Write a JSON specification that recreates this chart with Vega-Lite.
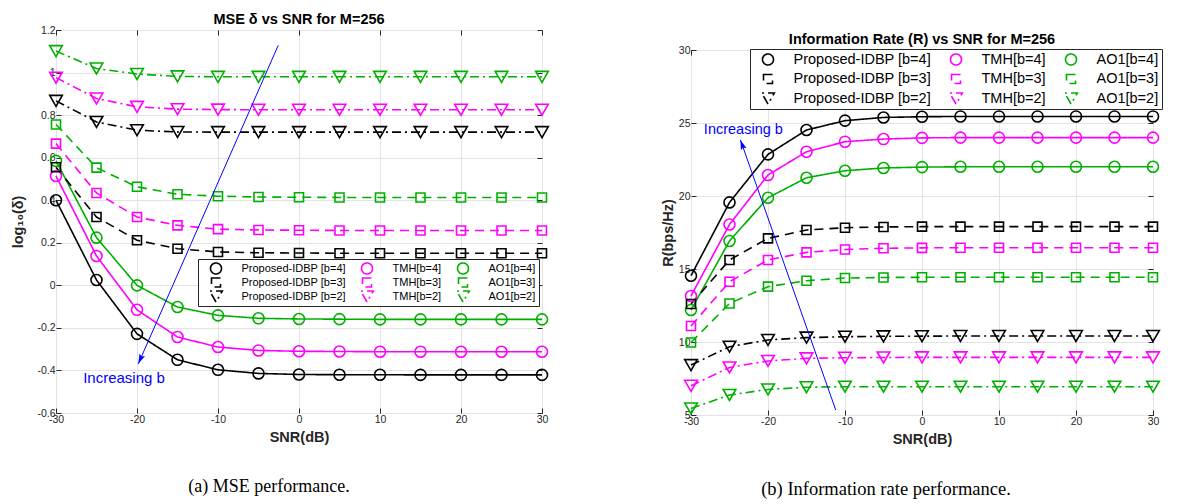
{
  "$schema": "https://vega.github.io/schema/vega-lite/v6.json",
  "padding": {"left": 10, "top": 9, "right": 2, "bottom": 2},
  "background": "white",
  "resolve": {"scale": {"color": "independent", "shape": "independent", "strokeDash": "independent", "size": "independent"}},
  "datasets": {
    "mse": [
      {"series": "Proposed-IDBP [b=4]", "snr": -30, "value": 0.40},
      {"series": "Proposed-IDBP [b=4]", "snr": -25, "value": 0.025},
      {"series": "Proposed-IDBP [b=4]", "snr": -20, "value": -0.228},
      {"series": "Proposed-IDBP [b=4]", "snr": -15, "value": -0.35},
      {"series": "Proposed-IDBP [b=4]", "snr": -10, "value": -0.397},
      {"series": "Proposed-IDBP [b=4]", "snr": -5, "value": -0.414},
      {"series": "Proposed-IDBP [b=4]", "snr": 0, "value": -0.419},
      {"series": "Proposed-IDBP [b=4]", "snr": 5, "value": -0.42},
      {"series": "Proposed-IDBP [b=4]", "snr": 10, "value": -0.42},
      {"series": "Proposed-IDBP [b=4]", "snr": 15, "value": -0.421},
      {"series": "Proposed-IDBP [b=4]", "snr": 20, "value": -0.421},
      {"series": "Proposed-IDBP [b=4]", "snr": 25, "value": -0.421},
      {"series": "Proposed-IDBP [b=4]", "snr": 30, "value": -0.421},
      {"series": "TMH[b=4]", "snr": -30, "value": 0.514},
      {"series": "TMH[b=4]", "snr": -25, "value": 0.138},
      {"series": "TMH[b=4]", "snr": -20, "value": -0.115},
      {"series": "TMH[b=4]", "snr": -15, "value": -0.243},
      {"series": "TMH[b=4]", "snr": -10, "value": -0.29},
      {"series": "TMH[b=4]", "snr": -5, "value": -0.306},
      {"series": "TMH[b=4]", "snr": 0, "value": -0.31},
      {"series": "TMH[b=4]", "snr": 5, "value": -0.311},
      {"series": "TMH[b=4]", "snr": 10, "value": -0.312},
      {"series": "TMH[b=4]", "snr": 15, "value": -0.312},
      {"series": "TMH[b=4]", "snr": 20, "value": -0.312},
      {"series": "TMH[b=4]", "snr": 25, "value": -0.312},
      {"series": "TMH[b=4]", "snr": 30, "value": -0.312},
      {"series": "AO1[b=4]", "snr": -30, "value": 0.585},
      {"series": "AO1[b=4]", "snr": -25, "value": 0.224},
      {"series": "AO1[b=4]", "snr": -20, "value": 0.0},
      {"series": "AO1[b=4]", "snr": -15, "value": -0.102},
      {"series": "AO1[b=4]", "snr": -10, "value": -0.141},
      {"series": "AO1[b=4]", "snr": -5, "value": -0.155},
      {"series": "AO1[b=4]", "snr": 0, "value": -0.158},
      {"series": "AO1[b=4]", "snr": 5, "value": -0.159},
      {"series": "AO1[b=4]", "snr": 10, "value": -0.16},
      {"series": "AO1[b=4]", "snr": 15, "value": -0.16},
      {"series": "AO1[b=4]", "snr": 20, "value": -0.16},
      {"series": "AO1[b=4]", "snr": 25, "value": -0.16},
      {"series": "AO1[b=4]", "snr": 30, "value": -0.16},
      {"series": "Proposed-IDBP [b=3]", "snr": -30, "value": 0.555},
      {"series": "Proposed-IDBP [b=3]", "snr": -25, "value": 0.321},
      {"series": "Proposed-IDBP [b=3]", "snr": -20, "value": 0.212},
      {"series": "Proposed-IDBP [b=3]", "snr": -15, "value": 0.172},
      {"series": "Proposed-IDBP [b=3]", "snr": -10, "value": 0.157},
      {"series": "Proposed-IDBP [b=3]", "snr": -5, "value": 0.153},
      {"series": "Proposed-IDBP [b=3]", "snr": 0, "value": 0.152},
      {"series": "Proposed-IDBP [b=3]", "snr": 5, "value": 0.151},
      {"series": "Proposed-IDBP [b=3]", "snr": 10, "value": 0.151},
      {"series": "Proposed-IDBP [b=3]", "snr": 15, "value": 0.151},
      {"series": "Proposed-IDBP [b=3]", "snr": 20, "value": 0.151},
      {"series": "Proposed-IDBP [b=3]", "snr": 25, "value": 0.151},
      {"series": "Proposed-IDBP [b=3]", "snr": 30, "value": 0.151},
      {"series": "TMH[b=3]", "snr": -30, "value": 0.666},
      {"series": "TMH[b=3]", "snr": -25, "value": 0.434},
      {"series": "TMH[b=3]", "snr": -20, "value": 0.321},
      {"series": "TMH[b=3]", "snr": -15, "value": 0.282},
      {"series": "TMH[b=3]", "snr": -10, "value": 0.264},
      {"series": "TMH[b=3]", "snr": -5, "value": 0.26},
      {"series": "TMH[b=3]", "snr": 0, "value": 0.259},
      {"series": "TMH[b=3]", "snr": 5, "value": 0.258},
      {"series": "TMH[b=3]", "snr": 10, "value": 0.258},
      {"series": "TMH[b=3]", "snr": 15, "value": 0.258},
      {"series": "TMH[b=3]", "snr": 20, "value": 0.258},
      {"series": "TMH[b=3]", "snr": 25, "value": 0.258},
      {"series": "TMH[b=3]", "snr": 30, "value": 0.258},
      {"series": "AO1[b=3]", "snr": -30, "value": 0.756},
      {"series": "AO1[b=3]", "snr": -25, "value": 0.553},
      {"series": "AO1[b=3]", "snr": -20, "value": 0.463},
      {"series": "AO1[b=3]", "snr": -15, "value": 0.428},
      {"series": "AO1[b=3]", "snr": -10, "value": 0.419},
      {"series": "AO1[b=3]", "snr": -5, "value": 0.415},
      {"series": "AO1[b=3]", "snr": 0, "value": 0.414},
      {"series": "AO1[b=3]", "snr": 5, "value": 0.413},
      {"series": "AO1[b=3]", "snr": 10, "value": 0.413},
      {"series": "AO1[b=3]", "snr": 15, "value": 0.413},
      {"series": "AO1[b=3]", "snr": 20, "value": 0.413},
      {"series": "AO1[b=3]", "snr": 25, "value": 0.413},
      {"series": "AO1[b=3]", "snr": 30, "value": 0.413},
      {"series": "Proposed-IDBP [b=2]", "snr": -30, "value": 0.867},
      {"series": "Proposed-IDBP [b=2]", "snr": -25, "value": 0.768},
      {"series": "Proposed-IDBP [b=2]", "snr": -20, "value": 0.729},
      {"series": "Proposed-IDBP [b=2]", "snr": -15, "value": 0.721},
      {"series": "Proposed-IDBP [b=2]", "snr": -10, "value": 0.72},
      {"series": "Proposed-IDBP [b=2]", "snr": -5, "value": 0.72},
      {"series": "Proposed-IDBP [b=2]", "snr": 0, "value": 0.72},
      {"series": "Proposed-IDBP [b=2]", "snr": 5, "value": 0.72},
      {"series": "Proposed-IDBP [b=2]", "snr": 10, "value": 0.72},
      {"series": "Proposed-IDBP [b=2]", "snr": 15, "value": 0.72},
      {"series": "Proposed-IDBP [b=2]", "snr": 20, "value": 0.72},
      {"series": "Proposed-IDBP [b=2]", "snr": 25, "value": 0.72},
      {"series": "Proposed-IDBP [b=2]", "snr": 30, "value": 0.72},
      {"series": "TMH[b=2]", "snr": -30, "value": 0.976},
      {"series": "TMH[b=2]", "snr": -25, "value": 0.878},
      {"series": "TMH[b=2]", "snr": -20, "value": 0.839},
      {"series": "TMH[b=2]", "snr": -15, "value": 0.828},
      {"series": "TMH[b=2]", "snr": -10, "value": 0.826},
      {"series": "TMH[b=2]", "snr": -5, "value": 0.825},
      {"series": "TMH[b=2]", "snr": 0, "value": 0.825},
      {"series": "TMH[b=2]", "snr": 5, "value": 0.825},
      {"series": "TMH[b=2]", "snr": 10, "value": 0.825},
      {"series": "TMH[b=2]", "snr": 15, "value": 0.825},
      {"series": "TMH[b=2]", "snr": 20, "value": 0.825},
      {"series": "TMH[b=2]", "snr": 25, "value": 0.825},
      {"series": "TMH[b=2]", "snr": 30, "value": 0.825},
      {"series": "AO1[b=2]", "snr": -30, "value": 1.101},
      {"series": "AO1[b=2]", "snr": -25, "value": 1.019},
      {"series": "AO1[b=2]", "snr": -20, "value": 0.993},
      {"series": "AO1[b=2]", "snr": -15, "value": 0.982},
      {"series": "AO1[b=2]", "snr": -10, "value": 0.98},
      {"series": "AO1[b=2]", "snr": -5, "value": 0.98},
      {"series": "AO1[b=2]", "snr": 0, "value": 0.98},
      {"series": "AO1[b=2]", "snr": 5, "value": 0.98},
      {"series": "AO1[b=2]", "snr": 10, "value": 0.98},
      {"series": "AO1[b=2]", "snr": 15, "value": 0.98},
      {"series": "AO1[b=2]", "snr": 20, "value": 0.98},
      {"series": "AO1[b=2]", "snr": 25, "value": 0.98},
      {"series": "AO1[b=2]", "snr": 30, "value": 0.98}
    ],
    "rate": [
      {"series": "Proposed-IDBP [b=4]", "snr": -30, "value": 14.54},
      {"series": "Proposed-IDBP [b=4]", "snr": -25, "value": 19.56},
      {"series": "Proposed-IDBP [b=4]", "snr": -20, "value": 22.85},
      {"series": "Proposed-IDBP [b=4]", "snr": -15, "value": 24.52},
      {"series": "Proposed-IDBP [b=4]", "snr": -10, "value": 25.16},
      {"series": "Proposed-IDBP [b=4]", "snr": -5, "value": 25.38},
      {"series": "Proposed-IDBP [b=4]", "snr": 0, "value": 25.43},
      {"series": "Proposed-IDBP [b=4]", "snr": 5, "value": 25.45},
      {"series": "Proposed-IDBP [b=4]", "snr": 10, "value": 25.45},
      {"series": "Proposed-IDBP [b=4]", "snr": 15, "value": 25.45},
      {"series": "Proposed-IDBP [b=4]", "snr": 20, "value": 25.45},
      {"series": "Proposed-IDBP [b=4]", "snr": 25, "value": 25.45},
      {"series": "Proposed-IDBP [b=4]", "snr": 30, "value": 25.45},
      {"series": "TMH[b=4]", "snr": -30, "value": 13.15},
      {"series": "TMH[b=4]", "snr": -25, "value": 18.05},
      {"series": "TMH[b=4]", "snr": -20, "value": 21.44},
      {"series": "TMH[b=4]", "snr": -15, "value": 23.03},
      {"series": "TMH[b=4]", "snr": -10, "value": 23.72},
      {"series": "TMH[b=4]", "snr": -5, "value": 23.9},
      {"series": "TMH[b=4]", "snr": 0, "value": 23.98},
      {"series": "TMH[b=4]", "snr": 5, "value": 24.0},
      {"series": "TMH[b=4]", "snr": 10, "value": 24.0},
      {"series": "TMH[b=4]", "snr": 15, "value": 24.0},
      {"series": "TMH[b=4]", "snr": 20, "value": 24.0},
      {"series": "TMH[b=4]", "snr": 25, "value": 24.0},
      {"series": "TMH[b=4]", "snr": 30, "value": 24.0},
      {"series": "AO1[b=4]", "snr": -30, "value": 12.19},
      {"series": "AO1[b=4]", "snr": -25, "value": 16.92},
      {"series": "AO1[b=4]", "snr": -20, "value": 19.88},
      {"series": "AO1[b=4]", "snr": -15, "value": 21.25},
      {"series": "AO1[b=4]", "snr": -10, "value": 21.73},
      {"series": "AO1[b=4]", "snr": -5, "value": 21.92},
      {"series": "AO1[b=4]", "snr": 0, "value": 21.98},
      {"series": "AO1[b=4]", "snr": 5, "value": 22.0},
      {"series": "AO1[b=4]", "snr": 10, "value": 22.0},
      {"series": "AO1[b=4]", "snr": 15, "value": 22.0},
      {"series": "AO1[b=4]", "snr": 20, "value": 22.0},
      {"series": "AO1[b=4]", "snr": 25, "value": 22.0},
      {"series": "AO1[b=4]", "snr": 30, "value": 22.0},
      {"series": "Proposed-IDBP [b=3]", "snr": -30, "value": 12.6},
      {"series": "Proposed-IDBP [b=3]", "snr": -25, "value": 15.62},
      {"series": "Proposed-IDBP [b=3]", "snr": -20, "value": 17.1},
      {"series": "Proposed-IDBP [b=3]", "snr": -15, "value": 17.67},
      {"series": "Proposed-IDBP [b=3]", "snr": -10, "value": 17.83},
      {"series": "Proposed-IDBP [b=3]", "snr": -5, "value": 17.88},
      {"series": "Proposed-IDBP [b=3]", "snr": 0, "value": 17.9},
      {"series": "Proposed-IDBP [b=3]", "snr": 5, "value": 17.9},
      {"series": "Proposed-IDBP [b=3]", "snr": 10, "value": 17.9},
      {"series": "Proposed-IDBP [b=3]", "snr": 15, "value": 17.9},
      {"series": "Proposed-IDBP [b=3]", "snr": 20, "value": 17.9},
      {"series": "Proposed-IDBP [b=3]", "snr": 25, "value": 17.9},
      {"series": "Proposed-IDBP [b=3]", "snr": 30, "value": 17.9},
      {"series": "TMH[b=3]", "snr": -30, "value": 11.1},
      {"series": "TMH[b=3]", "snr": -25, "value": 14.13},
      {"series": "TMH[b=3]", "snr": -20, "value": 15.62},
      {"series": "TMH[b=3]", "snr": -15, "value": 16.14},
      {"series": "TMH[b=3]", "snr": -10, "value": 16.34},
      {"series": "TMH[b=3]", "snr": -5, "value": 16.42},
      {"series": "TMH[b=3]", "snr": 0, "value": 16.45},
      {"series": "TMH[b=3]", "snr": 5, "value": 16.46},
      {"series": "TMH[b=3]", "snr": 10, "value": 16.46},
      {"series": "TMH[b=3]", "snr": 15, "value": 16.46},
      {"series": "TMH[b=3]", "snr": 20, "value": 16.46},
      {"series": "TMH[b=3]", "snr": 25, "value": 16.46},
      {"series": "TMH[b=3]", "snr": 30, "value": 16.46},
      {"series": "AO1[b=3]", "snr": -30, "value": 9.97},
      {"series": "AO1[b=3]", "snr": -25, "value": 12.64},
      {"series": "AO1[b=3]", "snr": -20, "value": 13.79},
      {"series": "AO1[b=3]", "snr": -15, "value": 14.2},
      {"series": "AO1[b=3]", "snr": -10, "value": 14.38},
      {"series": "AO1[b=3]", "snr": -5, "value": 14.42},
      {"series": "AO1[b=3]", "snr": 0, "value": 14.43},
      {"series": "AO1[b=3]", "snr": 5, "value": 14.43},
      {"series": "AO1[b=3]", "snr": 10, "value": 14.43},
      {"series": "AO1[b=3]", "snr": 15, "value": 14.43},
      {"series": "AO1[b=3]", "snr": 20, "value": 14.43},
      {"series": "AO1[b=3]", "snr": 25, "value": 14.43},
      {"series": "AO1[b=3]", "snr": 30, "value": 14.43},
      {"series": "Proposed-IDBP [b=2]", "snr": -30, "value": 8.42},
      {"series": "Proposed-IDBP [b=2]", "snr": -25, "value": 9.68},
      {"series": "Proposed-IDBP [b=2]", "snr": -20, "value": 10.14},
      {"series": "Proposed-IDBP [b=2]", "snr": -15, "value": 10.3},
      {"series": "Proposed-IDBP [b=2]", "snr": -10, "value": 10.36},
      {"series": "Proposed-IDBP [b=2]", "snr": -5, "value": 10.39},
      {"series": "Proposed-IDBP [b=2]", "snr": 0, "value": 10.4},
      {"series": "Proposed-IDBP [b=2]", "snr": 5, "value": 10.41},
      {"series": "Proposed-IDBP [b=2]", "snr": 10, "value": 10.41},
      {"series": "Proposed-IDBP [b=2]", "snr": 15, "value": 10.41},
      {"series": "Proposed-IDBP [b=2]", "snr": 20, "value": 10.41},
      {"series": "Proposed-IDBP [b=2]", "snr": 25, "value": 10.41},
      {"series": "Proposed-IDBP [b=2]", "snr": 30, "value": 10.41},
      {"series": "TMH[b=2]", "snr": -30, "value": 7.0},
      {"series": "TMH[b=2]", "snr": -25, "value": 8.26},
      {"series": "TMH[b=2]", "snr": -20, "value": 8.7},
      {"series": "TMH[b=2]", "snr": -15, "value": 8.88},
      {"series": "TMH[b=2]", "snr": -10, "value": 8.92},
      {"series": "TMH[b=2]", "snr": -5, "value": 8.94},
      {"series": "TMH[b=2]", "snr": 0, "value": 8.95},
      {"series": "TMH[b=2]", "snr": 5, "value": 8.95},
      {"series": "TMH[b=2]", "snr": 10, "value": 8.95},
      {"series": "TMH[b=2]", "snr": 15, "value": 8.95},
      {"series": "TMH[b=2]", "snr": 20, "value": 8.95},
      {"series": "TMH[b=2]", "snr": 25, "value": 8.95},
      {"series": "TMH[b=2]", "snr": 30, "value": 8.95},
      {"series": "AO1[b=2]", "snr": -30, "value": 5.45},
      {"series": "AO1[b=2]", "snr": -25, "value": 6.37},
      {"series": "AO1[b=2]", "snr": -20, "value": 6.75},
      {"series": "AO1[b=2]", "snr": -15, "value": 6.9},
      {"series": "AO1[b=2]", "snr": -10, "value": 6.94},
      {"series": "AO1[b=2]", "snr": -5, "value": 6.94},
      {"series": "AO1[b=2]", "snr": 0, "value": 6.94},
      {"series": "AO1[b=2]", "snr": 5, "value": 6.94},
      {"series": "AO1[b=2]", "snr": 10, "value": 6.94},
      {"series": "AO1[b=2]", "snr": 15, "value": 6.94},
      {"series": "AO1[b=2]", "snr": 20, "value": 6.94},
      {"series": "AO1[b=2]", "snr": 25, "value": 6.94},
      {"series": "AO1[b=2]", "snr": 30, "value": 6.94}
    ],
    "arrowA": [{"x0": -2.56, "y0": 1.128, "x1": -19.84, "y1": -0.369, "tx": -21.6, "ty": -0.436, "label": "Increasing b"}],
    "arrowB": [{"x0": -11.2, "y0": 5.34, "x1": -23.58, "y1": 23.84, "tx": -23.2, "ty": 24.52, "label": "Increasing b"}]
  },
  "spacing": 106,
  "hconcat": [
    {
      "spacing": 31,
      "vconcat": [
        {
          "spacing": 0,
          "vconcat": [
            {
              "width": 486,
              "height": 1,
              "view": {"stroke": null},
              "data": {"values": [{"blank": ""}]},
              "mark": {"type": "text", "fontSize": 1},
              "encoding": {"text": {"field": "blank"}}
            },
            {
              "width": 486,
              "height": 383,
              "title": {"text": "MSE δ vs SNR for M=256"},
              "resolve": {"axis": {"x": "independent", "y": "independent"}},
              "layer": [
                {
                  "data": {"name": "mse"},
                  "mark": {"type": "line", "strokeWidth": 1.6},
                  "encoding": {
                    "x": {"field": "snr", "type": "quantitative", "scale": {"domain": [-30, 30], "nice": false},
                      "axis": {"values": [-30, -20, -10, 0, 10, 20, 30], "title": "SNR(dB)", "labelExpr": "'' + datum.value", "grid": true, "titlePadding": 6}},
                    "y": {"field": "value", "type": "quantitative", "scale": {"domain": [-0.6, 1.2], "nice": false, "zero": false},
                      "axis": {"values": [-0.6, -0.4, -0.2, 0, 0.2, 0.4, 0.6, 0.8, 1, 1.2], "title": "log₁₀(δ)", "labelExpr": "'' + datum.value", "grid": true, "titlePadding": 11}},
                    "color": {"field": "series", "type": "nominal",
                      "scale": {"domain": ["Proposed-IDBP [b=4]", "Proposed-IDBP [b=3]", "Proposed-IDBP [b=2]", "TMH[b=4]", "TMH[b=3]", "TMH[b=2]", "AO1[b=4]", "AO1[b=3]", "AO1[b=2]"],
                        "range": ["#000000", "#000000", "#000000", "#FF00FF", "#FF00FF", "#FF00FF", "#00B000", "#00B000", "#00B000"]}},
                    "strokeDash": {"field": "series", "type": "nominal", "legend": null,
                      "scale": {"domain": ["Proposed-IDBP [b=4]", "Proposed-IDBP [b=3]", "Proposed-IDBP [b=2]", "TMH[b=4]", "TMH[b=3]", "TMH[b=2]", "AO1[b=4]", "AO1[b=3]", "AO1[b=2]"],
                        "range": [[1, 0], [9, 6], [9, 4, 2, 4], [1, 0], [9, 6], [9, 4, 2, 4], [1, 0], [9, 6], [9, 4, 2, 4]]}}
                  }
                },
                {
                  "data": {"name": "mse"},
                  "mark": {"type": "point", "filled": false, "strokeWidth": 1.6, "opacity": 1},
                  "encoding": {
                    "x": {"field": "snr", "type": "quantitative",
                      "axis": {"orient": "top", "values": [-30, -20, -10, 0, 10, 20, 30], "labels": false, "title": null, "grid": false}},
                    "y": {"field": "value", "type": "quantitative",
                      "axis": {"orient": "right", "values": [-0.6, -0.4, -0.2, 0, 0.2, 0.4, 0.6, 0.8, 1, 1.2], "labels": false, "title": null, "grid": false}},
                    "color": {"field": "series", "type": "nominal",
                      "legend": {
                        "title": null, "orient": "none", "legendX": 142, "legendY": 249, "columns": 3,
                        "labelFontSize": 11, "labelFont": "Liberation Sans", "labelColor": "#000000",
                        "strokeColor": "#262626", "fillColor": "white", "padding": 3,
                        "rowPadding": 1, "columnPadding": 6, "symbolOffset": 7.5, "labelOffset": 18, "symbolSize": 144, "symbolStrokeWidth": 1.6, "clipHeight": 13,
                        "encode": {
                          "labels": {
                            "fontSize": {"value": 11},
                            "font": {"value": "Liberation Sans"},
                            "fill": {"value": "#000000"}
                          },
                          "symbols": {
                            "shape": {"value": {"expr": "indexOf(datum.value,'b=4')>=0 ? 'M-3,0L3,0M-0.83,0A0.83,0.83 0 1,0 0.83,0A0.83,0.83 0 1,0 -0.83,0' : indexOf(datum.value,'b=3')>=0 ? 'M-3,0L-1.7,0M-0.75,0L1.7,0M-0.75,-0.75L0.75,-0.75L0.75,0.75L-0.75,0.75Z' : 'M-3,0L-1.5,0M-0.8,0L0.5,0M1.3,0L1.7,0M2.3,0L3,0M-1.08,-0.93L1.08,-0.93L0,0.93Z'"}},
                            "size": {"value": 144},
                            "strokeDash": {"value": [1, 0]},
                            "fill": {"value": "transparent"},
                            "strokeWidth": {"value": 1.6},
                            "opacity": {"value": 1}
                          }
                        }
                      }},
                    "shape": {"field": "series", "type": "nominal",
                      "scale": {"domain": ["Proposed-IDBP [b=4]", "Proposed-IDBP [b=3]", "Proposed-IDBP [b=2]", "TMH[b=4]", "TMH[b=3]", "TMH[b=2]", "AO1[b=4]", "AO1[b=3]", "AO1[b=2]"],
                        "range": ["circle", "square", "triangle-down", "circle", "square", "triangle-down", "circle", "square", "triangle-down"]}},
                    "size": {"field": "series", "type": "nominal", "legend": null,
                      "scale": {"type": "ordinal", "domain": ["Proposed-IDBP [b=4]", "Proposed-IDBP [b=3]", "Proposed-IDBP [b=2]", "TMH[b=4]", "TMH[b=3]", "TMH[b=2]", "AO1[b=4]", "AO1[b=3]", "AO1[b=2]"],
                        "range": [121, 81, 160, 121, 81, 160, 121, 81, 160]}}
                  }
                },
                {
                  "data": {"name": "arrowA"},
                  "mark": {"type": "rule", "color": "#0000FF", "strokeWidth": 1},
                  "encoding": {
                    "x": {"field": "x0", "type": "quantitative", "axis": null},
                    "y": {"field": "y0", "type": "quantitative", "axis": null},
                    "x2": {"field": "x1"},
                    "y2": {"field": "y1"}
                  }
                },
                {
                  "data": {"name": "arrowA"},
                  "mark": {"type": "point", "shape": "M0,0L0.6,2L0,1.6L-0.6,2Z", "filled": true, "color": "#0000FF", "size": 100, "opacity": 1, "angle": 203.7},
                  "encoding": {
                    "x": {"field": "x1", "type": "quantitative", "axis": null},
                    "y": {"field": "y1", "type": "quantitative", "axis": null}
                  }
                },
                {
                  "data": {"name": "arrowA"},
                  "mark": {"type": "text", "color": "#0000FF", "fontSize": 15, "font": "Liberation Sans"},
                  "encoding": {
                    "x": {"field": "tx", "type": "quantitative", "axis": null},
                    "y": {"field": "ty", "type": "quantitative", "axis": null},
                    "text": {"field": "label"}
                  }
                }
              ]
            }
          ]
        },
        {
          "width": 486,
          "height": 22,
          "view": {"stroke": null},
          "data": {"values": [{"caption": "(a) MSE performance."}]},
          "mark": {"type": "text", "font": "Liberation Serif", "fontSize": 18, "color": "#000000", "dx": -30},
          "encoding": {"text": {"field": "caption"}}
        }
      ]
    },
    {
      "spacing": 31,
      "vconcat": [
        {
          "spacing": 0,
          "vconcat": [
            {
              "width": 462,
              "height": 21,
              "view": {"stroke": null},
              "data": {"values": [{"blank": ""}]},
              "mark": {"type": "text", "fontSize": 1},
              "encoding": {"text": {"field": "blank"}}
            },
            {
              "width": 462,
              "height": 365,
              "title": {"text": "Information Rate (R) vs SNR for M=256"},
              "resolve": {"axis": {"x": "independent", "y": "independent"}},
              "layer": [
                {
                  "data": {"name": "rate"},
                  "mark": {"type": "line", "strokeWidth": 1.6},
                  "encoding": {
                    "x": {"field": "snr", "type": "quantitative", "scale": {"domain": [-30, 30], "nice": false},
                      "axis": {"values": [-30, -20, -10, 0, 10, 20, 30], "title": "SNR(dB)", "labelExpr": "'' + datum.value", "grid": true, "titlePadding": 6}},
                    "y": {"field": "value", "type": "quantitative", "scale": {"domain": [5, 30], "nice": false, "zero": false},
                      "axis": {"values": [5, 10, 15, 20, 25, 30], "title": "R(bps/Hz)", "labelExpr": "'' + datum.value", "grid": true, "titlePadding": 3}},
                    "color": {"field": "series", "type": "nominal",
                      "scale": {"domain": ["Proposed-IDBP [b=4]", "Proposed-IDBP [b=3]", "Proposed-IDBP [b=2]", "TMH[b=4]", "TMH[b=3]", "TMH[b=2]", "AO1[b=4]", "AO1[b=3]", "AO1[b=2]"],
                        "range": ["#000000", "#000000", "#000000", "#FF00FF", "#FF00FF", "#FF00FF", "#00B000", "#00B000", "#00B000"]}},
                    "strokeDash": {"field": "series", "type": "nominal", "legend": null,
                      "scale": {"domain": ["Proposed-IDBP [b=4]", "Proposed-IDBP [b=3]", "Proposed-IDBP [b=2]", "TMH[b=4]", "TMH[b=3]", "TMH[b=2]", "AO1[b=4]", "AO1[b=3]", "AO1[b=2]"],
                        "range": [[1, 0], [9, 6], [9, 4, 2, 4], [1, 0], [9, 6], [9, 4, 2, 4], [1, 0], [9, 6], [9, 4, 2, 4]]}}
                  }
                },
                {
                  "data": {"name": "rate"},
                  "mark": {"type": "point", "filled": false, "strokeWidth": 1.6, "opacity": 1},
                  "encoding": {
                    "x": {"field": "snr", "type": "quantitative",
                      "axis": {"orient": "top", "values": [-30, -20, -10, 0, 10, 20, 30], "labels": false, "title": null, "grid": false}},
                    "y": {"field": "value", "type": "quantitative",
                      "axis": {"orient": "right", "values": [5, 10, 15, 20, 25, 30], "labels": false, "title": null, "grid": false}},
                    "color": {"field": "series", "type": "nominal",
                      "legend": {
                        "title": null, "orient": "none", "legendX": 59, "legendY": 39, "columns": 3,
                        "labelFontSize": 14.5, "labelFont": "Liberation Sans", "labelColor": "#000000",
                        "strokeColor": "#262626", "fillColor": "white", "padding": 3,
                        "rowPadding": 3.5, "columnPadding": 10, "symbolOffset": 7.5, "labelOffset": 18, "symbolSize": 144, "symbolStrokeWidth": 1.6, "clipHeight": 15,
                        "encode": {
                          "labels": {
                            "fontSize": {"value": 14.5},
                            "font": {"value": "Liberation Sans"},
                            "fill": {"value": "#000000"}
                          },
                          "symbols": {
                            "shape": {"value": {"expr": "indexOf(datum.value,'b=4')>=0 ? 'M-3,0L3,0M-0.83,0A0.83,0.83 0 1,0 0.83,0A0.83,0.83 0 1,0 -0.83,0' : indexOf(datum.value,'b=3')>=0 ? 'M-3,0L-1.7,0M-0.75,0L1.7,0M-0.75,-0.75L0.75,-0.75L0.75,0.75L-0.75,0.75Z' : 'M-3,0L-1.5,0M-0.8,0L0.5,0M1.3,0L1.7,0M2.3,0L3,0M-1.08,-0.93L1.08,-0.93L0,0.93Z'"}},
                            "size": {"value": 144},
                            "strokeDash": {"value": [1, 0]},
                            "fill": {"value": "transparent"},
                            "strokeWidth": {"value": 1.6},
                            "opacity": {"value": 1}
                          }
                        }
                      }},
                    "shape": {"field": "series", "type": "nominal",
                      "scale": {"domain": ["Proposed-IDBP [b=4]", "Proposed-IDBP [b=3]", "Proposed-IDBP [b=2]", "TMH[b=4]", "TMH[b=3]", "TMH[b=2]", "AO1[b=4]", "AO1[b=3]", "AO1[b=2]"],
                        "range": ["circle", "square", "triangle-down", "circle", "square", "triangle-down", "circle", "square", "triangle-down"]}},
                    "size": {"field": "series", "type": "nominal", "legend": null,
                      "scale": {"type": "ordinal", "domain": ["Proposed-IDBP [b=4]", "Proposed-IDBP [b=3]", "Proposed-IDBP [b=2]", "TMH[b=4]", "TMH[b=3]", "TMH[b=2]", "AO1[b=4]", "AO1[b=3]", "AO1[b=2]"],
                        "range": [121, 81, 160, 121, 81, 160, 121, 81, 160]}}
                  }
                },
                {
                  "data": {"name": "arrowB"},
                  "mark": {"type": "rule", "color": "#0000FF", "strokeWidth": 1},
                  "encoding": {
                    "x": {"field": "x0", "type": "quantitative", "axis": null},
                    "y": {"field": "y0", "type": "quantitative", "axis": null},
                    "x2": {"field": "x1"},
                    "y2": {"field": "y1"}
                  }
                },
                {
                  "data": {"name": "arrowB"},
                  "mark": {"type": "point", "shape": "M0,0L0.6,2L0,1.6L-0.6,2Z", "filled": true, "color": "#0000FF", "size": 100, "opacity": 1, "angle": 340.6},
                  "encoding": {
                    "x": {"field": "x1", "type": "quantitative", "axis": null},
                    "y": {"field": "y1", "type": "quantitative", "axis": null}
                  }
                },
                {
                  "data": {"name": "arrowB"},
                  "mark": {"type": "text", "color": "#0000FF", "fontSize": 14.5, "font": "Liberation Sans"},
                  "encoding": {
                    "x": {"field": "tx", "type": "quantitative", "axis": null},
                    "y": {"field": "ty", "type": "quantitative", "axis": null},
                    "text": {"field": "label"}
                  }
                }
              ]
            }
          ]
        },
        {
          "width": 462,
          "height": 22,
          "view": {"stroke": null},
          "data": {"values": [{"caption": "(b) Information rate performance."}]},
          "mark": {"type": "text", "font": "Liberation Serif", "fontSize": 18.5, "color": "#000000", "dx": -36},
          "encoding": {"text": {"field": "caption"}}
        }
      ]
    }
  ],
  "config": {
    "font": "Liberation Sans",
    "view": {"stroke": "#262626", "strokeWidth": 1},
    "axis": {
      "labelFont": "Liberation Sans", "labelFontSize": 10.5, "labelColor": "#262626",
      "titleFont": "Liberation Sans, DejaVu Sans", "titleFontSize": 14.5, "titleFontWeight": "bold", "titleColor": "#262626",
      "gridColor": "#e3e3e3", "gridWidth": 1, "domain": false, "labelFlush": false, "labelOverlap": false,
      "tickColor": "#262626", "tickSize": -5, "tickWidth": 1, "labelPadding": 6
    },
    "title": {"font": "Liberation Sans", "fontSize": 14.5, "fontWeight": "bold", "color": "#000000", "offset": -2.5}
  }
}
